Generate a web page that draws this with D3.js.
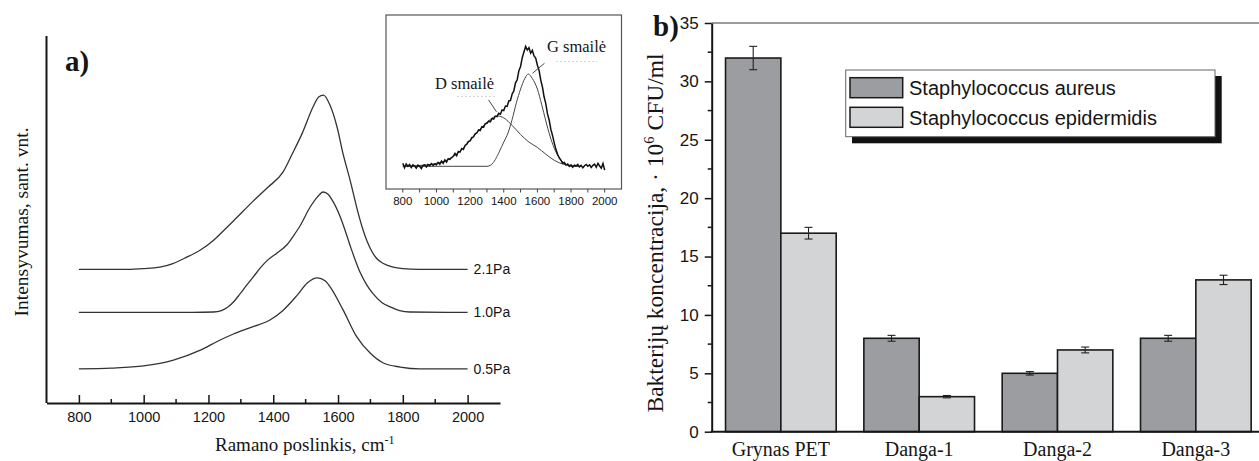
<!DOCTYPE html>
<html>
<head>
<meta charset="utf-8">
<script src="https://cdn.jsdelivr.net/npm/d3@7"></script>
<style>
  html, body { margin: 0; padding: 0; background: #fff; }
  svg { display: block; }
</style>
</head>
<body>
<svg id="fig" width="1259" height="461"></svg>
<script>
// ---------- Panel a): Raman spectra, stacked, arbitrary intensity units ----------
const spectrum05 = [[800,0.93],[900,0.95],[1000,1.01],[1092,1.17],[1175,1.44],[1230,1.69],[1277,1.88],
  [1338,2.08],[1391,2.27],[1431,2.53],[1474,2.94],[1505,3.27],[1536,3.41],[1560,3.33],[1576,3.16],
  [1616,2.53],[1658,1.80],[1699,1.36],[1740,1.09],[1792,0.98],[1853,0.93],[2000,0.93]];
const spectrum10 = [[800,2.47],[1150,2.47],[1215,2.48],[1240,2.52],[1258,2.60],[1280,2.78],[1298,2.98],
  [1318,3.21],[1338,3.43],[1360,3.68],[1381,3.88],[1412,4.09],[1443,4.32],[1462,4.55],[1483,4.83],
  [1514,5.34],[1536,5.61],[1554,5.75],[1570,5.68],[1582,5.53],[1607,5.07],[1625,4.62],[1640,4.22],
  [1655,3.85],[1668,3.56],[1690,3.20],[1708,2.98],[1735,2.74],[1761,2.62],[1790,2.52],[1822,2.48],[2000,2.47]];
const spectrum21 = [[800,3.64],[950,3.64],[1000,3.66],[1050,3.70],[1090,3.80],[1130,3.96],[1175,4.17],
  [1215,4.43],[1240,4.64],[1277,4.96],[1338,5.50],[1381,5.86],[1430,6.29],[1460,6.81],[1490,7.36],
  [1523,8.07],[1540,8.34],[1555,8.39],[1575,8.12],[1597,7.52],[1615,6.81],[1637,6.08],[1662,5.18],
  [1677,4.72],[1690,4.40],[1705,4.12],[1720,3.93],[1740,3.80],[1770,3.70],[1800,3.66],[1850,3.64],[2000,3.64]];
const spectrumLabels = ["0.5Pa", "1.0Pa", "2.1Pa"];
const ramanTicks = [800, 1000, 1200, 1400, 1600, 1800, 2000];
const ramanMinorTicks = [900, 1100, 1300, 1500, 1700, 1900];

// Inset: measured spectrum (10 cm-1 steps from 800) and the two fitted bands
const insetStart = 800, insetStep = 10;
const insetMeasured = [
  0.020, -0.010, 0.015, 0.000, 0.012, -0.008, 0.010, 0.002, -0.012, 0.008,
  0.000, -0.015, 0.006, 0.010, -0.004, 0.012, 0.004, 0.018, 0.006, 0.015,
  0.010, 0.026, 0.014, 0.034, 0.020, 0.042, 0.028, 0.050, 0.046, 0.058,
  0.066, 0.085, 0.070, 0.098, 0.094, 0.118, 0.112, 0.138, 0.146, 0.165,
  0.168, 0.190, 0.194, 0.215, 0.220, 0.240, 0.236, 0.262, 0.258, 0.282,
  0.284, 0.298, 0.294, 0.315, 0.312, 0.332, 0.328, 0.350, 0.344, 0.372,
  0.368, 0.398, 0.396, 0.432, 0.436, 0.478, 0.498, 0.552, 0.572, 0.632,
  0.660, 0.718, 0.755, 0.792, 0.768, 0.784, 0.748, 0.766, 0.730, 0.716,
  0.668, 0.634, 0.570, 0.524, 0.458, 0.414, 0.346, 0.306, 0.244, 0.204,
  0.155, 0.112, 0.080, 0.055, 0.040, 0.020, 0.025, 0.008, 0.015, 0.000,
  0.010, -0.006, 0.008, 0.002, 0.012, -0.004, 0.006, -0.010, 0.004, 0.012,
  0.000, 0.010, -0.008, 0.006, 0.014, -0.006, 0.020, 0.002, -0.012, 0.018,
  -0.025];
const insetBandD = [[800,0],[900,0.005],[1000,0.02],[1050,0.035],[1100,0.065],[1150,0.11],[1200,0.17],
  [1250,0.235],[1300,0.29],[1340,0.325],[1367,0.332],[1400,0.32],[1450,0.27],[1500,0.21],[1550,0.16],
  [1600,0.125],[1650,0.08],[1700,0.04],[1750,0.015],[1800,0.005],[1850,0]];
const insetBandG = [[800,0],[1300,0],[1325,0.01],[1350,0.045],[1375,0.10],[1400,0.16],[1425,0.22],
  [1450,0.31],[1475,0.42],[1500,0.51],[1525,0.58],[1546,0.61],[1570,0.58],[1600,0.51],[1625,0.41],
  [1650,0.30],[1675,0.20],[1700,0.12],[1725,0.065],[1750,0.03],[1775,0.01],[1800,0],[1850,0]];
const insetTicks = [800, 1000, 1200, 1400, 1600, 1800, 2000];
const insetMinorTicks = [900, 1100, 1300, 1500, 1700, 1900];

// ---------- Panel b): bacterial concentration, 10^6 CFU/ml ----------
const categories = ["Grynas PET", "Danga-1", "Danga-2", "Danga-3"];
const seriesNames = ["Staphylococcus aureus", "Staphylococcus epidermidis"];
const aureus = [32, 8, 5, 8];
const aureusErr = [1.0, 0.25, 0.15, 0.25];
const epidermidis = [17, 3, 7, 13];
const epidermidisErr = [0.5, 0.1, 0.25, 0.4];
const concTicks = [0, 5, 10, 15, 20, 25, 30, 35];
const concMinorTicks = [2.5, 7.5, 12.5, 17.5, 22.5, 27.5, 32.5];

const SERIF = "'Liberation Serif', 'Times New Roman', serif";
const SANS = "'Liberation Sans', Arial, Helvetica, sans-serif";
const INK = "#151515";

const svg = d3.select("#fig");
svg.append("rect").attr("width", 1259).attr("height", 461).attr("fill", "#fff");

// ======================= Panel a) =======================
const xA = d3.scaleLinear().domain([700, 2100]).range([46.5, 500]);
const yA = d3.scaleLinear().domain([0, 10]).range([403, 36]);
const gA = svg.append("g");

const lineA = d3.line().x(d => xA(d[0])).y(d => yA(d[1])).curve(d3.curveMonotoneX);
const spectra = [spectrum05, spectrum10, spectrum21];
spectra.forEach((s, i) => {
  gA.append("path").attr("d", lineA(s)).attr("fill", "none")
    .attr("stroke", "#333").attr("stroke-width", 1.3);
  const last = s[s.length - 1];
  gA.append("text").attr("x", xA(last[0]) + 6).attr("y", yA(last[1]))
    .attr("dy", "0.36em").attr("font-family", SANS).attr("font-size", 14)
    .attr("fill", INK).text(spectrumLabels[i]);
});

// bottom axis with inward ticks
const axA = gA.append("g").attr("transform", `translate(0,${yA(0)})`)
  .call(d3.axisBottom(xA).tickValues(ramanTicks).tickSizeInner(-8).tickSizeOuter(0).tickPadding(9)
    .tickFormat(d3.format("d")));
axA.select(".domain").attr("stroke", INK).attr("stroke-width", 2);
axA.selectAll(".tick line").attr("stroke", INK).attr("stroke-width", 1.5);
axA.selectAll("text").attr("font-family", SANS).attr("font-size", 14.5).attr("fill", INK);
gA.append("g").selectAll("line").data(ramanMinorTicks).join("line")
  .attr("x1", d => xA(d)).attr("x2", d => xA(d))
  .attr("y1", yA(0)).attr("y2", yA(0) - 4)
  .attr("stroke", INK).attr("stroke-width", 1.5);
// left axis line (no ticks)
gA.append("line").attr("x1", xA(700)).attr("x2", xA(700))
  .attr("y1", yA(0)).attr("y2", yA(10))
  .attr("stroke", INK).attr("stroke-width", 2);

gA.append("text").attr("x", 65).attr("y", 71).attr("font-family", SERIF)
  .attr("font-weight", "bold").attr("font-size", 29).attr("fill", INK).text("a)");

const xlab = gA.append("text").attr("x", 215).attr("y", 451)
  .attr("font-family", SERIF).attr("font-size", 19).attr("fill", INK);
xlab.append("tspan").text("Ramano poslinkis, cm");
xlab.append("tspan").attr("font-size", 12).attr("dy", -7).text("-1");

gA.append("text").attr("transform", "translate(28,222) rotate(-90)")
  .attr("text-anchor", "middle").attr("font-family", SERIF).attr("font-size", 19.5)
  .attr("fill", INK).text("Intensyvumas, sant. vnt.");

// ---------------------- Inset ----------------------
const xI = d3.scaleLinear().domain([700, 2100]).range([386, 621.5]);
const yI = d3.scaleLinear().domain([-0.15, 1.0]).range([189, 15]);
const gI = svg.append("g");
gI.append("rect").attr("x", 386).attr("y", 15).attr("width", 621.5 - 386).attr("height", 189 - 15)
  .attr("fill", "#fff").attr("stroke", "#555").attr("stroke-width", 1.2);

const lineI = d3.line().x(d => xI(d[0])).y(d => yI(d[1]));
const measured = insetMeasured.map((v, i) => [insetStart + i * insetStep, v]);
gI.append("path").attr("d", lineI.curve(d3.curveMonotoneX)(insetBandD)).attr("fill", "none")
  .attr("stroke", "#444").attr("stroke-width", 1);
gI.append("path").attr("d", lineI.curve(d3.curveMonotoneX)(insetBandG)).attr("fill", "none")
  .attr("stroke", "#444").attr("stroke-width", 1);
gI.append("path").attr("d", lineI.curve(d3.curveLinear)(measured)).attr("fill", "none")
  .attr("stroke", "#111").attr("stroke-width", 1.5);

const tickI = gI.append("g");
tickI.selectAll("line.maj").data(insetTicks.concat(insetMinorTicks)).join("line")
  .attr("x1", d => xI(d)).attr("x2", d => xI(d)).attr("y1", 189).attr("y2", 192.5)
  .attr("stroke", "#444").attr("stroke-width", 1);
tickI.selectAll("text").data(insetTicks).join("text")
  .attr("x", d => xI(d)).attr("y", 205).attr("text-anchor", "middle")
  .attr("font-family", SANS).attr("font-size", 11.5).attr("fill", INK).text(d => d);

// band annotations with leader lines
const dTip = [xI(1357), yI(0.36)];
const gTip = [xI(1571), yI(0.615)];
gI.append("line").attr("x1", dTip[0] - 8).attr("y1", dTip[1] - 12).attr("x2", dTip[0]).attr("y2", dTip[1])
  .attr("stroke", "#333").attr("stroke-width", 0.9);
gI.append("line").attr("x1", gTip[0] + 12).attr("y1", gTip[1] - 10).attr("x2", gTip[0]).attr("y2", gTip[1])
  .attr("stroke", "#333").attr("stroke-width", 0.9);
gI.append("line").attr("x1", 457).attr("x2", 496).attr("y1", 96.5).attr("y2", 96.5)
  .attr("stroke", "#d6d6d6").attr("stroke-width", 1).attr("stroke-dasharray", "2,2");
gI.append("line").attr("x1", 556).attr("x2", 597).attr("y1", 61.5).attr("y2", 61.5)
  .attr("stroke", "#d6d6d6").attr("stroke-width", 1).attr("stroke-dasharray", "2,2");
gI.append("text").attr("x", 435).attr("y", 88.5).attr("font-family", SERIF).attr("font-size", 16.5)
  .attr("fill", INK).text("D smailė");
gI.append("text").attr("x", 547).attr("y", 52).attr("font-family", SERIF).attr("font-size", 16.5)
  .attr("fill", INK).text("G smailė");

// ======================= Panel b) =======================
const yB = d3.scaleLinear().domain([0, 35]).range([431.7, 23]);
const xB = d3.scaleBand().domain(categories).range([711.7, 1265]).paddingInner(0.2).paddingOuter(0.1);
const xS = d3.scaleBand().domain(seriesNames).range([0, xB.bandwidth()]);
const fills = ["#9c9da1", "#d3d4d6"];
const gB = svg.append("g");

// top frame line
gB.append("line").attr("x1", 711.7).attr("x2", 1259).attr("y1", yB(35)).attr("y2", yB(35))
  .attr("stroke", "#7a7a7a").attr("stroke-width", 1.5);

const rows = categories.map((c, i) => [
  { cat: c, s: seriesNames[0], v: aureus[i], e: aureusErr[i], f: fills[0] },
  { cat: c, s: seriesNames[1], v: epidermidis[i], e: epidermidisErr[i], f: fills[1] }
]).flat();

gB.selectAll("rect.bar").data(rows).join("rect").attr("class", "bar")
  .attr("x", d => xB(d.cat) + xS(d.s)).attr("width", xS.bandwidth())
  .attr("y", d => yB(d.v)).attr("height", d => yB(0) - yB(d.v))
  .attr("fill", d => d.f).attr("stroke", "#1a1a1a").attr("stroke-width", 1.6);

const err = gB.selectAll("g.err").data(rows).join("g").attr("class", "err")
  .attr("transform", d => `translate(${xB(d.cat) + xS(d.s) + xS.bandwidth() / 2},0)`);
err.append("line").attr("y1", d => yB(d.v + d.e)).attr("y2", d => yB(d.v - d.e))
  .attr("stroke", "#222").attr("stroke-width", 1.1);
err.append("line").attr("x1", -4).attr("x2", 4).attr("y1", d => yB(d.v + d.e)).attr("y2", d => yB(d.v + d.e))
  .attr("stroke", "#222").attr("stroke-width", 1.1);
err.append("line").attr("x1", -4).attr("x2", 4).attr("y1", d => yB(d.v - d.e)).attr("y2", d => yB(d.v - d.e))
  .attr("stroke", "#222").attr("stroke-width", 1.1);

// axes
const axB = gB.append("g").attr("transform", "translate(711.7,0)")
  .call(d3.axisLeft(yB).tickValues(concTicks).tickSize(7).tickSizeOuter(0).tickPadding(6));
axB.select(".domain").attr("stroke", INK).attr("stroke-width", 2);
axB.selectAll(".tick line").attr("stroke", INK).attr("stroke-width", 1.5);
axB.selectAll("text").attr("font-family", SANS).attr("font-size", 17).attr("fill", INK);
gB.append("g").selectAll("line").data(concMinorTicks).join("line")
  .attr("x1", 711.7).attr("x2", 711.7 - 4).attr("y1", d => yB(d)).attr("y2", d => yB(d))
  .attr("stroke", INK).attr("stroke-width", 1.5);
gB.append("line").attr("x1", 710.7).attr("x2", 1259).attr("y1", yB(0)).attr("y2", yB(0))
  .attr("stroke", INK).attr("stroke-width", 2);

gB.selectAll("text.cat").data(categories).join("text").attr("class", "cat")
  .attr("x", d => xB(d) + xB.bandwidth() / 2).attr("y", 456)
  .attr("text-anchor", "middle").attr("font-family", SERIF).attr("font-size", 20)
  .attr("fill", INK).text(d => d);

const ylabB = gB.append("text").attr("transform", "translate(663,233) rotate(-90)")
  .attr("text-anchor", "middle").attr("font-family", SERIF).attr("font-size", 23.5).attr("fill", INK);
ylabB.append("tspan").text("Bakterijų koncentracija, · 10");
ylabB.append("tspan").attr("font-size", 14.5).attr("dy", -9).text("6");
ylabB.append("tspan").attr("dy", 9).text(" CFU/ml");

gB.append("text").attr("x", 653).attr("y", 36).attr("font-family", SERIF)
  .attr("font-weight", "bold").attr("font-size", 29).attr("fill", INK).text("b)");

// legend with drop shadow
const lg = gB.append("g");
lg.append("rect").attr("x", 852).attr("y", 76).attr("width", 1221.7 - 852).attr("height", 143.3 - 76)
  .attr("fill", "#111");
lg.append("rect").attr("x", 845.7).attr("y", 70).attr("width", 1215 - 845.7).attr("height", 136.7 - 70)
  .attr("fill", "#fff").attr("stroke", "#666").attr("stroke-width", 1);
seriesNames.forEach((name, i) => {
  const y0 = 77.7 + i * 29.6;
  lg.append("rect").attr("x", 850).attr("y", y0).attr("width", 52.7).attr("height", 20)
    .attr("fill", fills[i]).attr("stroke", "#1a1a1a").attr("stroke-width", 1.5);
  lg.append("text").attr("x", 909).attr("y", y0 + 17.5).attr("font-family", SANS)
    .attr("font-size", 20).attr("fill", INK).text(name);
});
</script>
</body>
</html>
